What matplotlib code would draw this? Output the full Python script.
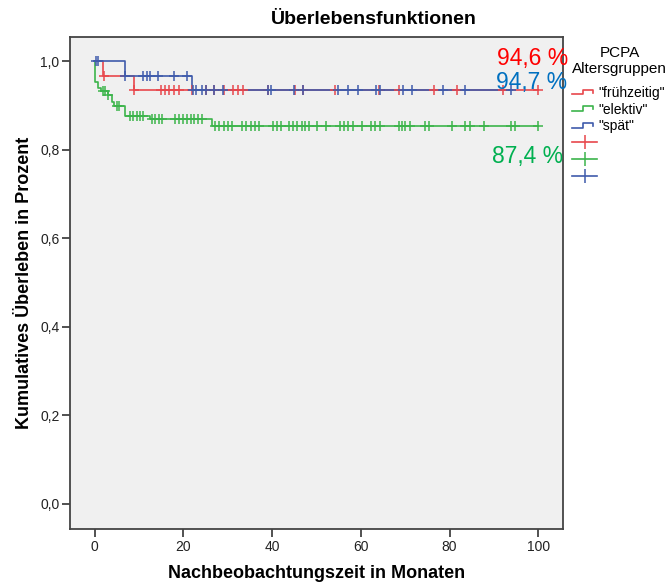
import numpy as np
import matplotlib
matplotlib.use("Agg")
import matplotlib.pyplot as plt
from matplotlib.lines import Line2D
from matplotlib.legend_handler import HandlerBase
from matplotlib.ticker import FuncFormatter, FixedLocator
from matplotlib import font_manager

names = {f.name for f in font_manager.fontManager.ttflist}
FONT = 'Liberation Sans'
NARROW = 'Liberation Sans Narrow' if 'Liberation Sans Narrow' in names else FONT
plt.rcParams['font.family'] = [FONT, 'DejaVu Sans']

# ---------------- data ----------------
groups = ['"frühzeitig"', '"elektiv"', '"spät"']
colors = ['#e8474c', '#3cb44b', '#3f5bab']

# step functions (event times, survival after the step), last entry = end of follow-up
red_t = [0.0, 1.9, 8.9, 100.0]
red_s = [1.0, 0.968, 0.936, 0.936]
red_cens = [2.0, 8.9, 14.9, 15.8, 16.8, 17.9, 19.0, 22.0, 25.1, 26.9, 29.2, 31.2,
            32.3, 33.5, 39.0, 45.1, 47.0, 54.2, 64.1, 68.5, 76.6, 81.7, 92.0, 100.0]

green_t = [0.0, 0.0, 0.75, 1.5, 2.9, 3.8, 4.4, 6.9, 12.4, 26.5, 100.0]
green_s = [1.0, 0.953, 0.940, 0.932, 0.923, 0.909, 0.900, 0.877, 0.870, 0.854, 0.854]
green_cens = [1.9, 2.4, 3.0, 5.0, 5.4, 7.9, 8.6, 9.4, 10.2, 10.9, 12.8, 13.5, 14.4,
              15.2, 18.1, 18.9, 19.8, 20.7, 21.6, 22.4, 23.2, 24.1, 27.1, 28.1, 29.1,
              30.1, 30.9, 33.1, 34.1, 35.2, 36.1, 37.0, 40.1, 41.0, 41.9, 43.9, 44.8,
              45.7, 46.7, 47.4, 48.3, 50.0, 52.1, 55.2, 56.1, 57.1, 58.2, 60.3, 62.4,
              63.3, 64.3, 68.5, 69.3, 70.0, 71.0, 74.5, 75.4, 80.5, 83.6, 84.6, 87.8,
              93.8, 94.7, 100.0]

blue_t = [0.0, 6.9, 22.0, 94.0]
blue_s = [1.0, 0.968, 0.935, 0.935]
blue_cens = [0.2, 0.8, 6.9, 10.9, 11.7, 12.5, 14.2, 17.9, 20.9, 22.2, 22.9, 24.1,
             25.0, 26.9, 29.0, 39.0, 39.7, 45.0, 47.0, 54.9, 57.2, 59.3, 63.5, 64.3,
             69.5, 71.6, 78.6, 83.6, 93.8]

labels_pct = ['94,6 %', '94,7 %', '87,4 %']
label_colors = ['#ff0000', '#0070c0', '#00b050']
label_pos = [(90.8, 1.006), (90.6, 0.953), (89.5, 0.785)]

yticks = [0.0, 0.2, 0.4, 0.6, 0.8, 1.0]
xticks = [0, 20, 40, 60, 80, 100]

# ---------------- figure ----------------
W, H = 670, 583
fig = plt.figure(figsize=(W / 100, H / 100), dpi=100)
fig.patch.set_facecolor('white')
ax = fig.add_axes([70 / W, 1 - 529 / H, (563 - 70) / W, (529 - 37) / H])
ax.set_facecolor('#f0f0f0')

curves = [(red_t, red_s, red_cens), (green_t, green_s, green_cens), (blue_t, blue_s, blue_cens)]
for (t, s, c), col in zip(curves, colors):
    ax.step(t, s, where='post', color=col, lw=1.2, zorder=3)
for (t, s, c), col in zip(curves, colors):
    t_arr = np.array(t)
    s_arr = np.array(s)
    idx = np.searchsorted(t_arr, np.array(c), side='right') - 1
    ax.plot(c, s_arr[idx], linestyle='none', marker='+', markersize=7,
            markeredgewidth=1.1, color=col, zorder=4)

for txt, col, (x, y) in zip(labels_pct, label_colors, label_pos):
    ax.text(x, y, txt, color=col, fontsize=16.5, va='center', ha='left',
            clip_on=False, zorder=6)

ax.set_xlim(-5.6, 105.6)
ax.set_ylim(-0.0565, 1.055)
ax.xaxis.set_major_locator(FixedLocator(xticks))
ax.yaxis.set_major_locator(FixedLocator(yticks))
ax.yaxis.set_major_formatter(FuncFormatter(lambda v, p: f'{v:.1f}'.replace('.', ',')))
ax.xaxis.set_major_formatter(FuncFormatter(lambda v, p: f'{v:.0f}'))
ax.tick_params(axis='both', length=6, width=1.2, color='#333333', labelsize=10,
               labelcolor='#222222')
ax.tick_params(axis='y', pad=1.5)
ax.tick_params(axis='x', pad=2)
for lab in ax.get_xticklabels() + ax.get_yticklabels():
    lab.set_family(NARROW)
for sp in ax.spines.values():
    sp.set_color('#444444')
    sp.set_linewidth(1.3)

ax.set_xlabel('Nachbeobachtungszeit in Monaten', fontsize=13, fontweight='bold',
              labelpad=8, family=NARROW)
ax.set_ylabel('Kumulatives Überleben in Prozent', fontsize=13, fontweight='bold',
              labelpad=5, family=NARROW)
fig.text(374 / W, 1 - 20 / H, 'Überlebensfunktionen', ha='center', va='center',
         fontsize=14, fontweight='bold', family=NARROW)


class StepHandler(HandlerBase):
    def create_artists(self, legend, orig_handle, xdescent, ydescent, width, height,
                       fontsize, trans):
        x0 = -xdescent
        y0 = -ydescent
        xs = np.array([0.0, 0.42, 0.42, 0.85, 0.85]) * width + x0
        ys = np.array([0.25, 0.25, 0.75, 0.75, 0.45]) * height + y0
        ln = Line2D(xs, ys, color=orig_handle.get_color(), lw=1.2, transform=trans)
        return [ln]


step_handles = [Line2D([], [], color=c) for c in colors]
cens_handles = [Line2D([], [], color=c, marker='|', markersize=10, markeredgewidth=1.1,
                       lw=1.2) for c in colors]
handles = step_handles + cens_handles
labels = groups + [' ', ' ', ' ']
hmap = {h: StepHandler() for h in step_handles}
leg = fig.legend(handles, labels, handler_map=hmap, loc='upper left',
                 bbox_to_anchor=(572 / W, 1 - 46 / H), frameon=False,
                 title='PCPA\nAltersgruppen', title_fontsize=11, fontsize=10,
                 handlelength=1.8, handletextpad=0.1, labelspacing=0.2,
                 numpoints=1, borderaxespad=0, borderpad=0)
leg._legend_box.align = 'left'
leg._legend_box.sep = 7
leg.get_title().set_ha('center')

fig.savefig('out.png', dpi=100)
